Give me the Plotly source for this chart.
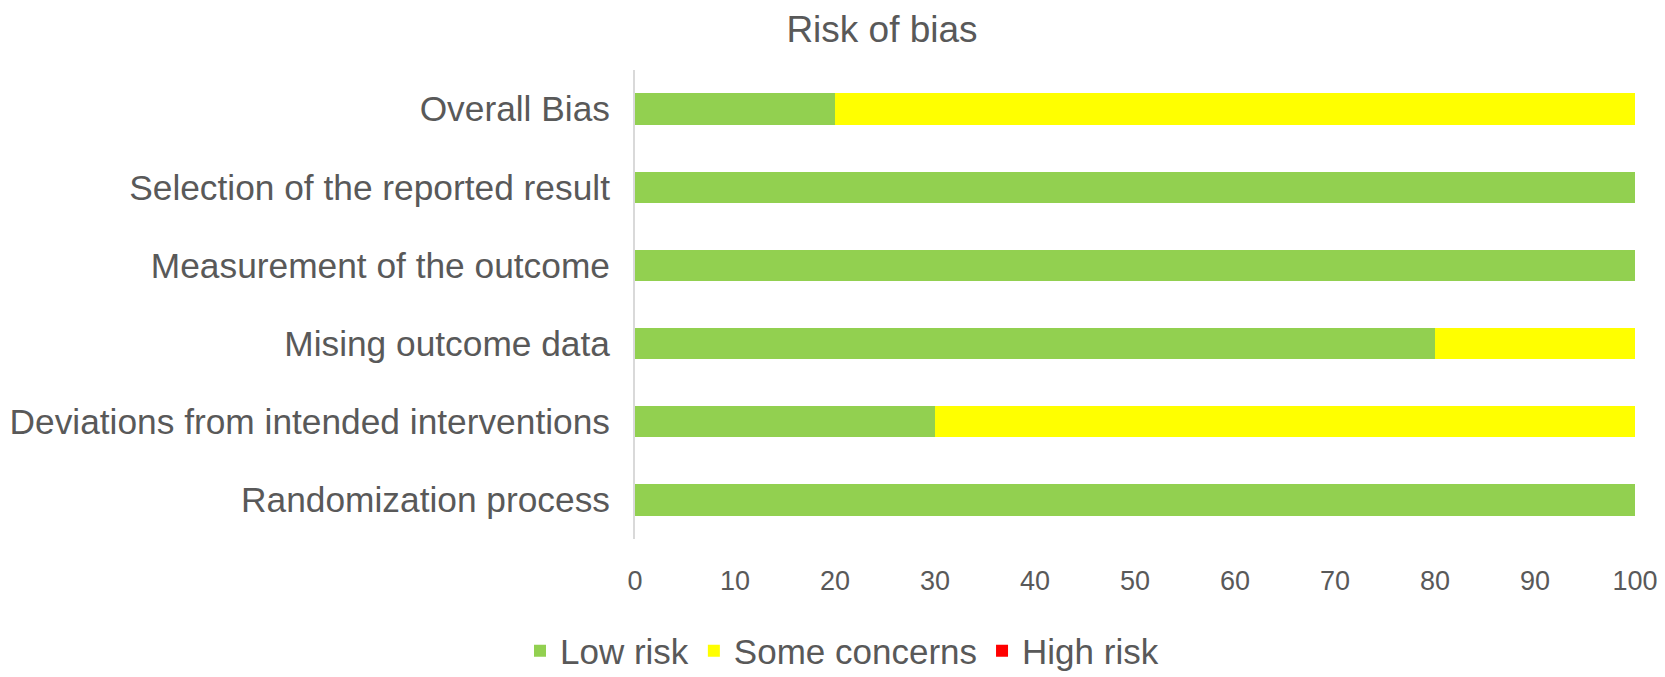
import plotly.graph_objects as go

# カテゴリ（下から上の順）
domains = [
    "Randomization process",
    "Deviations from intended interventions",
    "Mising outcome data",
    "Measurement of the outcome",
    "Selection of the reported result",
    "Overall Bias",
]
low_risk = [100, 30, 80, 100, 100, 20]
some_concerns = [0, 70, 20, 0, 0, 80]
high_risk = [0, 0, 0, 0, 0, 0]

series_names = ["Low risk", "Some concerns", "High risk"]
series_colors = ["#92D050", "#FFFF00", "#FF0000"]
x_ticks = list(range(0, 101, 10))

text_color = "#595959"
font_family = "Liberation Sans, Arial, sans-serif"

# ページのbodyに8pxの余白があるので、その分だけ小さくする
W, H = 1657, 669

fig = go.Figure()
for name, vals, col in zip(series_names, [low_risk, some_concerns, high_risk], series_colors):
    fig.add_trace(go.Bar(
        y=domains,
        x=vals,
        name=name,
        orientation="h",
        marker=dict(color=col, line=dict(width=0)),
    ))

fig.update_layout(
    width=W,
    height=H,
    barmode="stack",
    bargap=0.60,
    plot_bgcolor="white",
    paper_bgcolor="white",
    margin=dict(l=627, r=30, t=62, b=138),
    font=dict(family=font_family, color=text_color),
    title=dict(
        text="Risk of bias",
        x=874 / W, xref="container", xanchor="center",
        y=1 - 21 / H, yref="container", yanchor="middle",
        font=dict(size=37, color=text_color),
    ),
    legend=dict(
        orientation="h",
        xref="container", x=512 / W, xanchor="left",
        yref="container", y=1 - 643 / H, yanchor="middle",
        font=dict(size=35, color=text_color),
        traceorder="normal",
    ),
    showlegend=True,
)

fig.update_xaxes(
    range=[0, 100],
    tickvals=x_ticks,
    showgrid=False,
    zeroline=False,
    showline=False,
    automargin=False,
    tickfont=dict(size=27, color=text_color),
    ticks="",
    ticklabelstandoff=23,
)
fig.update_yaxes(
    showgrid=False,
    showline=True,
    linecolor="#D9D9D9",
    linewidth=2,
    automargin=False,
    ticks="",
    tickfont=dict(size=35.3, color=text_color),
    ticklabelstandoff=16,
)

fig.write_html("out.html")
